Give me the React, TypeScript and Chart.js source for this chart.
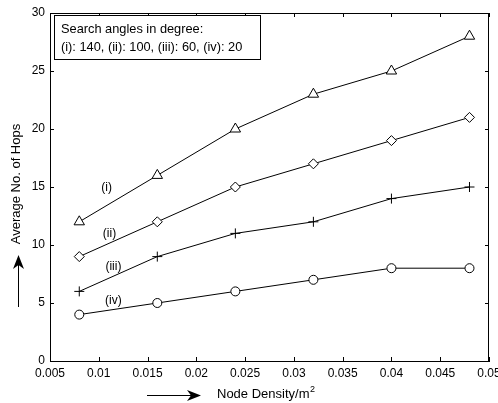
import React, { useEffect, useRef } from "react";
import { Chart, registerables } from "chart.js";

Chart.register(...registerables);

const xValues = [0.008, 0.016, 0.024, 0.032, 0.04, 0.048];
const seriesI = [12, 16, 20, 23, 25, 28];
const seriesII = [9, 12, 15, 17, 19, 21];
const seriesIII = [6, 9, 11, 12, 14, 15];
const seriesIV = [4, 5, 6, 7, 8, 8];
const seriesNames = ["(i)", "(ii)", "(iii)", "(iv)"];
const seriesLabelPos = [
  [0.0108, 14.9],
  [0.0111, 11.0],
  [0.0115, 8.1],
  [0.0115, 5.2],
];
const legendLines = ["Search angles in degree:", "(i): 140, (ii): 100, (iii): 60, (iv): 20"];
const xTitle = "Node Density/m";
const yTitle = "Average No. of Hops";

const FONT = "Liberation Sans, Arial, sans-serif";

const toPts = (ys: number[]) => ys.map((y, i) => ({ x: xValues[i], y }));

const decorPlugin = {
  id: "decor",
  afterDraw(chart: any) {
    const { ctx, chartArea, scales } = chart;
    const { left, right, top, bottom } = chartArea;
    const xs = scales.x;
    const ys = scales.y;
    ctx.save();
    ctx.strokeStyle = "#000";
    ctx.fillStyle = "#000";
    ctx.lineWidth = 1;
    // box top & right
    ctx.beginPath();
    ctx.moveTo(left, top + 0.5);
    ctx.lineTo(right, top + 0.5);
    ctx.moveTo(right - 0.5, top);
    ctx.lineTo(right - 0.5, bottom);
    ctx.stroke();
    // inward ticks
    const tl = 4;
    ctx.beginPath();
    xs.ticks.forEach((t: any) => {
      const px = Math.round(xs.getPixelForValue(t.value)) + 0.5;
      ctx.moveTo(px, bottom);
      ctx.lineTo(px, bottom - tl);
      ctx.moveTo(px, top);
      ctx.lineTo(px, top + tl);
    });
    ys.ticks.forEach((t: any) => {
      const py = Math.round(ys.getPixelForValue(t.value)) + 0.5;
      ctx.moveTo(left, py);
      ctx.lineTo(left + tl, py);
      ctx.moveTo(right, py);
      ctx.lineTo(right - tl, py);
    });
    ctx.stroke();

    // legend box
    ctx.fillStyle = "#fff";
    ctx.fillRect(54, 15, 207, 44);
    ctx.strokeRect(54.5, 15.5, 206, 44);
    ctx.fillStyle = "#000";
    ctx.font = `12.8px ${FONT}`;
    ctx.textAlign = "left";
    ctx.textBaseline = "middle";
    ctx.fillText(legendLines[0], 61, 29);
    ctx.fillText(legendLines[1], 61, 47);

    // series labels
    ctx.font = `12px ${FONT}`;
    ctx.textAlign = "center";
    seriesNames.forEach((n, i) => {
      const [vx, vy] = seriesLabelPos[i];
      ctx.fillText(n, xs.getPixelForValue(vx), ys.getPixelForValue(vy));
    });

    // x title
    ctx.textAlign = "left";
    ctx.textBaseline = "alphabetic";
    ctx.font = `13px ${FONT}`;
    ctx.fillText(xTitle, 217, 398);
    const w = ctx.measureText(xTitle).width;
    ctx.font = `9px ${FONT}`;
    ctx.fillText("2", 217 + w + 0.5, 392);

    // x arrow
    ctx.beginPath();
    ctx.moveTo(147, 395.5);
    ctx.lineTo(192, 395.5);
    ctx.stroke();
    ctx.beginPath();
    ctx.moveTo(201, 395.5);
    ctx.lineTo(187, 390);
    ctx.lineTo(191, 395.5);
    ctx.lineTo(187, 401);
    ctx.closePath();
    ctx.fill();

    // y title
    ctx.save();
    ctx.translate(16.5, 184);
    ctx.rotate(-Math.PI / 2);
    ctx.font = `13px ${FONT}`;
    ctx.textAlign = "center";
    ctx.textBaseline = "middle";
    ctx.fillText(yTitle, 0, 0);
    ctx.restore();

    // y arrow
    ctx.beginPath();
    ctx.moveTo(18.5, 307);
    ctx.lineTo(18.5, 263);
    ctx.stroke();
    ctx.beginPath();
    ctx.moveTo(18.5, 255);
    ctx.lineTo(13, 269);
    ctx.lineTo(18.5, 265);
    ctx.lineTo(24, 269);
    ctx.closePath();
    ctx.fill();

    ctx.restore();
  },
};

export default function App() {
  const ref = useRef<HTMLCanvasElement>(null);
  useEffect(() => {
    if (!ref.current) return;
    const common = {
      borderColor: "#000",
      borderWidth: 1,
      backgroundColor: "#fff",
      pointBackgroundColor: "#fff",
      pointBorderColor: "#000",
      pointBorderWidth: 1,
      fill: false,
      tension: 0,
    };
    const chart = new Chart(ref.current, {
      type: "line",
      data: {
        datasets: [
          { ...common, label: "(i)", data: toPts(seriesI), pointStyle: "triangle", pointRadius: 6 },
          { ...common, label: "(ii)", data: toPts(seriesII), pointStyle: "rectRot", pointRadius: 5 },
          { ...common, label: "(iii)", data: toPts(seriesIII), pointStyle: "cross", pointRadius: 5 },
          { ...common, label: "(iv)", data: toPts(seriesIV), pointStyle: "circle", pointRadius: 4.5 },
        ],
      },
      options: {
        responsive: false,
        animation: false,
        layout: { padding: { left: 0, right: 9, top: 13, bottom: 0 } },
        plugins: { legend: { display: false }, tooltip: { enabled: false } },
        scales: {
          x: {
            type: "linear",
            min: 0.005,
            max: 0.05,
            grid: { display: false, drawTicks: false },
            border: { display: true, color: "#000", width: 1 },
            ticks: {
              stepSize: 0.005,
              autoSkip: false,
              maxRotation: 0,
              padding: 5,
              color: "#000",
              font: { family: FONT, size: 12 },
              callback: (v: any) => String(parseFloat(Number(v).toFixed(3))),
            },
            afterFit: (s: any) => {
              s.height = 42;
              s.paddingLeft = 0;
              s.paddingRight = 0;
            },
          },
          y: {
            min: 0,
            max: 30,
            grid: { display: false, drawTicks: false },
            border: { display: true, color: "#000", width: 1 },
            ticks: {
              stepSize: 5,
              padding: 5,
              color: "#000",
              font: { family: FONT, size: 12 },
            },
            afterFit: (s: any) => {
              s.width = 50;
              s.paddingTop = 0;
              s.paddingBottom = 0;
            },
          },
        },
      },
      plugins: [decorPlugin],
    } as any);
    return () => chart.destroy();
  }, []);
  return (
    <div style={{ position: "absolute", left: 0, top: 0, width: 498, height: 403, background: "#fff" }}>
      <canvas ref={ref} width={498} height={403} style={{ width: 498, height: 403 }} />
    </div>
  );
}
